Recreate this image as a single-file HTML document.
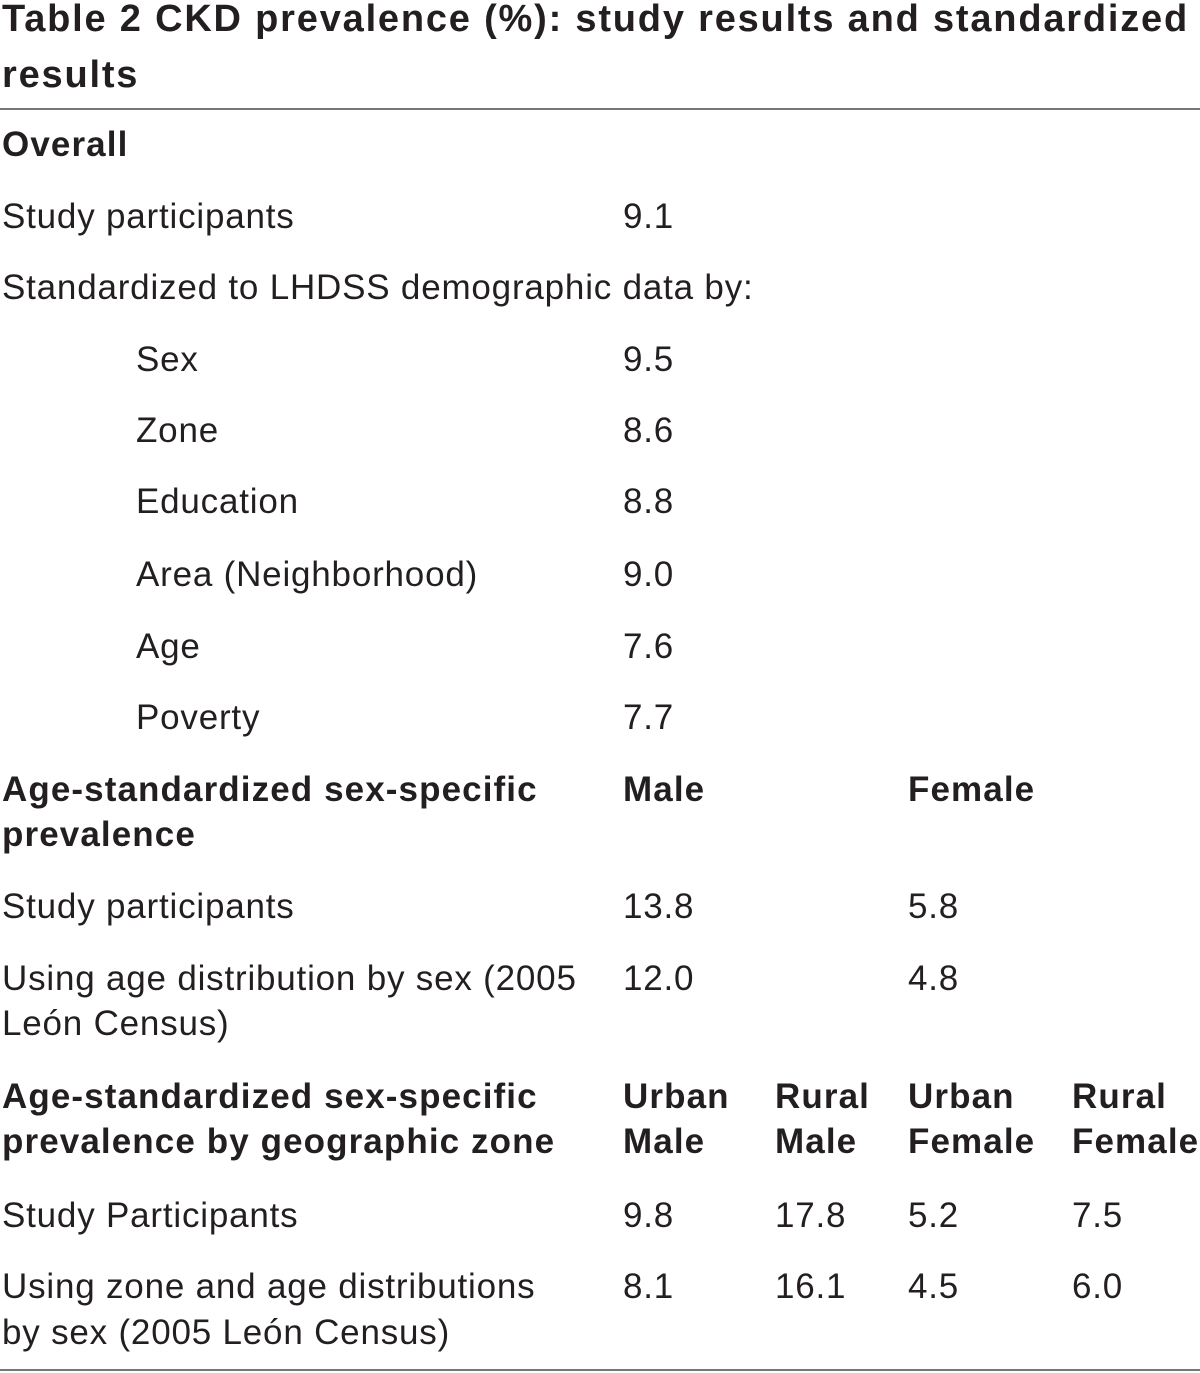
<!DOCTYPE html>
<html><head><meta charset="utf-8"><style>
body{margin:0;width:1200px;height:1373px;background:#fff;position:relative;overflow:hidden;font-family:"Liberation Sans",sans-serif;color:#231f20;}
.t{position:absolute;font-size:35px;line-height:46px;white-space:nowrap;letter-spacing:0.8px;}
.b{font-weight:bold;letter-spacing:1.1px;}
.h{position:absolute;left:0;width:1200px;height:2px;background:#777;}
.ti{font-size:38px;letter-spacing:1.8px;}
</style></head><body>
<div class="t b ti" style="left:2px;top:-4px;">Table 2 CKD prevalence (%): study results and standardized</div>
<div class="t b ti" style="left:2px;top:52px;">results</div>
<div class="h" style="top:108px"></div>
<div class="t b" style="left:2px;top:122px">Overall</div>
<div class="t" style="left:2px;top:194px">Study participants</div><div class="t" style="left:623px;top:194px">9.1</div>
<div class="t" style="left:2px;top:265px">Standardized to LHDSS demographic data by:</div>
<div class="t" style="left:136px;top:337px">Sex</div><div class="t" style="left:623px;top:337px">9.5</div>
<div class="t" style="left:136px;top:408px">Zone</div><div class="t" style="left:623px;top:408px">8.6</div>
<div class="t" style="left:136px;top:479px">Education</div><div class="t" style="left:623px;top:479px">8.8</div>
<div class="t" style="left:136px;top:552px">Area (Neighborhood)</div><div class="t" style="left:623px;top:552px">9.0</div>
<div class="t" style="left:136px;top:624px">Age</div><div class="t" style="left:623px;top:624px">7.6</div>
<div class="t" style="left:136px;top:695px">Poverty</div><div class="t" style="left:623px;top:695px">7.7</div>
<div class="t b" style="left:2px;top:767px">Age-standardized sex-specific</div>
<div class="t b" style="left:2px;top:812px">prevalence</div>
<div class="t b" style="left:623px;top:767px">Male</div><div class="t b" style="left:908px;top:767px">Female</div>
<div class="t" style="left:2px;top:884px">Study participants</div><div class="t" style="left:623px;top:884px">13.8</div><div class="t" style="left:908px;top:884px">5.8</div>
<div class="t" style="left:2px;top:956px">Using age distribution by sex (2005</div>
<div class="t" style="left:2px;top:1001px">León Census)</div>
<div class="t" style="left:623px;top:956px">12.0</div><div class="t" style="left:908px;top:956px">4.8</div>
<div class="t b" style="left:2px;top:1074px">Age-standardized sex-specific</div>
<div class="t b" style="left:2px;top:1119px">prevalence by geographic zone</div>
<div class="t b" style="left:623px;top:1074px">Urban</div><div class="t b" style="left:623px;top:1119px">Male</div>
<div class="t b" style="left:775px;top:1074px">Rural</div><div class="t b" style="left:775px;top:1119px">Male</div>
<div class="t b" style="left:908px;top:1074px">Urban</div><div class="t b" style="left:908px;top:1119px">Female</div>
<div class="t b" style="left:1072px;top:1074px">Rural</div><div class="t b" style="left:1072px;top:1119px">Female</div>
<div class="t" style="left:2px;top:1193px">Study Participants</div>
<div class="t" style="left:623px;top:1193px">9.8</div><div class="t" style="left:775px;top:1193px">17.8</div><div class="t" style="left:908px;top:1193px">5.2</div><div class="t" style="left:1072px;top:1193px">7.5</div>
<div class="t" style="left:2px;top:1264px">Using zone and age distributions</div>
<div class="t" style="left:2px;top:1310px">by sex (2005 León Census)</div>
<div class="t" style="left:623px;top:1264px">8.1</div><div class="t" style="left:775px;top:1264px">16.1</div><div class="t" style="left:908px;top:1264px">4.5</div><div class="t" style="left:1072px;top:1264px">6.0</div>
<div class="h" style="top:1369px"></div>
</body></html>
